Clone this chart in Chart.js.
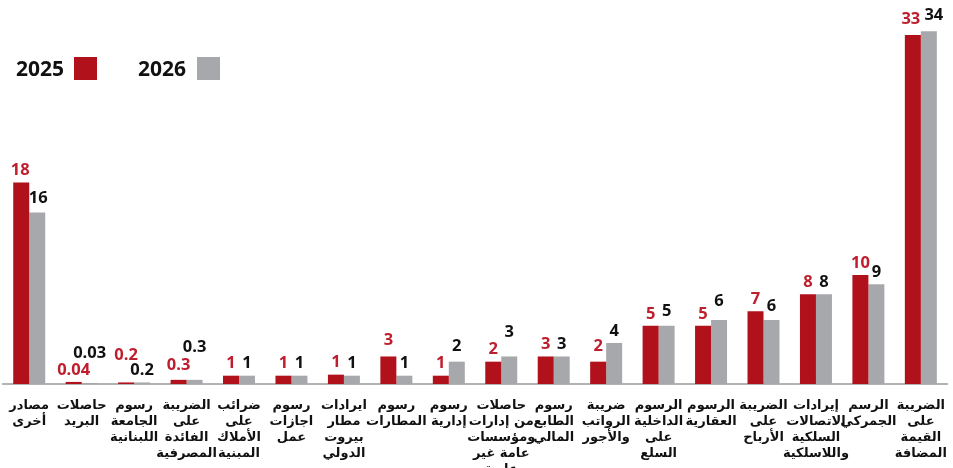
<!DOCTYPE html>
<html>
<head>
<meta charset="utf-8">
<script src="https://cdn.jsdelivr.net/npm/chart.js@4"></script>
<style>
    html, body { margin: 0; padding: 0; background: #ffffff; }
    #wrap { width: 953px; height: 468px; position: relative; }
</style>
</head>
<body>
<div id="wrap"><canvas id="chart"></canvas></div>
<script>
(function () {
    "use strict";

    // Data
    const categories = [
        ["مصادر", "أخرى"],
        ["حاصلات", "البريد"],
        ["رسوم", "الجامعة", "اللبنانية"],
        ["الضريبة", "على", "الفائدة", "المصرفية"],
        ["ضرائب", "على", "الأملاك", "المبنية"],
        ["رسوم", "اجازات", "عمل"],
        ["ايرادات", "مطار", "بيروت", "الدولي"],
        ["رسوم", "المطارات"],
        ["رسوم", "إدارية"],
        ["حاصلات", "من إدارات", "ومؤسسات", "عامة غير", "عادية"],
        ["رسوم", "الطابع", "المالي"],
        ["ضريبة", "الرواتب", "والأجور"],
        ["الرسوم", "الداخلية", "على", "السلع"],
        ["الرسوم", "العقارية"],
        ["الضريبة", "على", "الأرباح"],
        ["إيرادات", "الاتصالات", "السلكية", "واللاسلكية"],
        ["الرسم", "الجمركي"],
        ["الضريبة", "على", "القيمة", "المضافة"],
    ];

    const values2025 = [19.4, 0.2, 0.15, 0.4, 0.8, 0.8, 0.9, 2.65, 0.8, 2.15, 2.65, 2.15, 5.6, 5.6, 7.0, 8.65, 10.5, 33.6];
    const values2026 = [16.5, 0.1, 0.15, 0.4, 0.8, 0.8, 0.8, 0.8, 2.15, 2.65, 2.65, 3.95, 5.6, 6.15, 6.15, 8.65, 9.6, 33.95];

    const labels2025 = ["18", "0.04", "0.2", "0.3", "1", "1", "1", "3", "1", "2", "3", "2", "5", "5", "7", "8", "10", "33"];
    const labels2026 = ["16", "0.03", "0.2", "0.3", "1", "1", "1", "1", "2", "3", "3", "4", "5", "6", "6", "8", "9", "34"];

    const RED = "#b0111b";
    const GRAY = "#a7a8ac";

    // nudges for crowded value labels (px)
    const raise2025 = [0, 0, 15, 3, 0, 0, 0, 4, 0, 0, 0, 3, 0, 0, 0, 0, 0, 4];
    const raise2026 = [2, 18, 0, 21, 0, 0, 0, 0, 3, 12, 0, 0, 3, 7, 2, 0, 0, 4];
    const shift2025 = [-1, 0, 0, 0, 0, 0, 0, 0, 0, 0, 0, 0, 0, 0, 0, 0, 0, -2];
    const shift2026 = [1, 0, 0, 0, 0, 0, 0, 0, 0, 0, 0, 0, 0, 0, 0, 0, 0, 5];

    const valueLabels = {
        id: "valueLabels",
        afterDatasetsDraw(chart) {
            const ctx = chart.ctx;
            ctx.save();
            ctx.font = "bold 16.5px 'Open Sans'";
            ctx.textAlign = "center";
            ctx.textBaseline = "middle";
            chart.data.datasets.forEach((ds, di) => {
                const meta = chart.getDatasetMeta(di);
                const texts = di === 0 ? labels2025 : labels2026;
                const raise = di === 0 ? raise2025 : raise2026;
                const shift = di === 0 ? shift2025 : shift2026;
                ctx.fillStyle = di === 0 ? "#be1e2d" : "#111111";
                meta.data.forEach((bar, i) => {
                    ctx.fillText(texts[i], bar.x + shift[i], bar.y - 12 - raise[i]);
                });
            });
            ctx.restore();
        },
    };

    const legendBlock = {
        id: "legendBlock",
        afterDraw(chart) {
            const ctx = chart.ctx;
            ctx.save();
            ctx.font = "bold 21px 'Open Sans'";
            ctx.textBaseline = "middle";
            ctx.textAlign = "left";
            ctx.fillStyle = "#111111";
            ctx.fillText("2025", 16, 70);
            ctx.fillText("2026", 138, 70);
            ctx.fillStyle = RED;
            ctx.fillRect(74, 57, 23, 23);
            ctx.fillStyle = GRAY;
            ctx.fillRect(197, 57, 23, 23);
            ctx.restore();
        },
    };

    const ctx = document.getElementById("chart").getContext("2d");
    new Chart(ctx, {
        type: "bar",
        data: {
            labels: categories,
            datasets: [
                {
                    label: "2025",
                    data: values2025,
                    backgroundColor: RED,
                    categoryPercentage: 0.61,
                    barPercentage: 1.0,
                },
                {
                    label: "2026",
                    data: values2026,
                    backgroundColor: GRAY,
                    categoryPercentage: 0.61,
                    barPercentage: 1.0,
                },
            ],
        },
        options: {
            responsive: true,
            maintainAspectRatio: false,
            animation: false,
            layout: {
                padding: { top: 10, left: 3, right: 3, bottom: 0 },
            },
            plugins: {
                legend: { display: false },
                tooltip: { enabled: false },
            },
            scales: {
                x: {
                    grid: { display: false },
                    border: { display: true, color: "#b3b3b3", width: 2 },
                    ticks: {
                        color: "#111111",
                        font: { family: "'DejaVu Sans'", size: 13, weight: "bold", lineHeight: 1.22 },
                        padding: 6,
                        maxRotation: 0,
                        autoSkip: false,
                    },
                    afterFit(scale) {
                        scale.height = 84;
                    },
                },
                y: {
                    display: false,
                    min: 0,
                    max: 36,
                },
            },
        },
        plugins: [valueLabels, legendBlock],
    });
})();
</script>
</body>
</html>
